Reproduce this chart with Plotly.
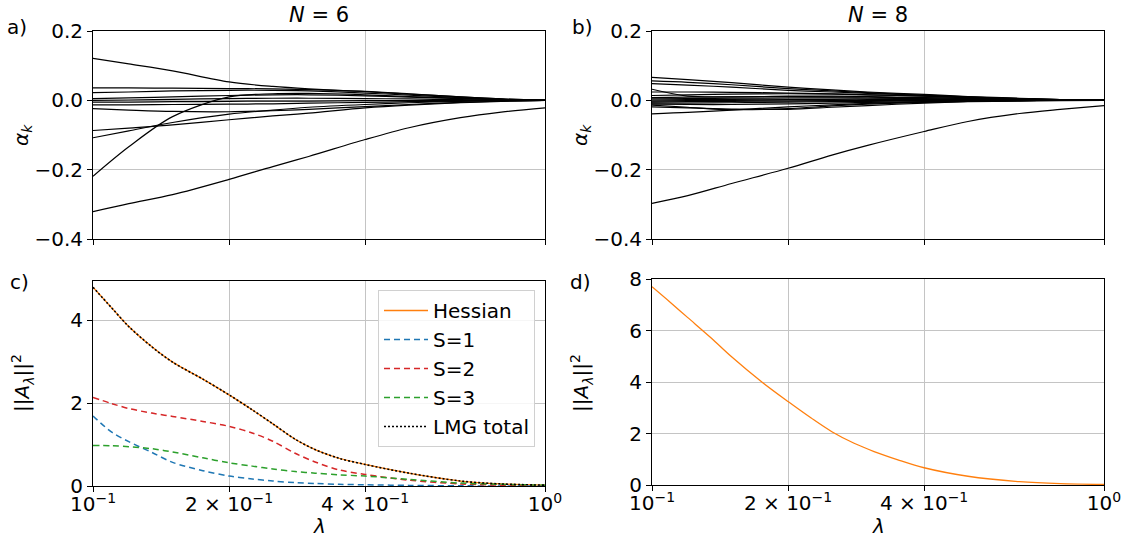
import plotly.graph_objects as go

W, H = 1129, 542

# ---------------- data ----------------
lam = [0.1, 0.12, 0.15, 0.2, 0.25, 0.3, 0.4, 0.5, 0.65, 0.8, 1.0]

# panel a) N=6 : alpha_k vs lambda
alpha_n6 = [
    [0.121, 0.105, 0.085, 0.053, 0.040, 0.033, 0.025, 0.018, 0.010, 0.004, 0.0],
    [0.036, 0.036, 0.035, 0.034, 0.033, 0.031, 0.026, 0.019, 0.010, 0.004, 0.0],
    [0.022, 0.024, 0.027, 0.029, 0.029, 0.027, 0.021, 0.015, 0.008, 0.003, 0.0],
    [0.005, 0.007, 0.010, 0.014, 0.016, 0.016, 0.013, 0.009, 0.005, 0.002, 0.0],
    [0.000, 0.001, 0.003, 0.005, 0.006, 0.006, 0.005, 0.004, 0.002, 0.001, 0.0],
    [-0.005, -0.005, -0.004, -0.003, -0.002, -0.002, -0.001, -0.001, 0.0, 0.0, 0.0],
    [-0.013, -0.013, -0.012, -0.011, -0.010, -0.008, -0.006, -0.004, -0.002, -0.001, 0.0],
    [-0.024, -0.028, -0.032, -0.033, -0.030, -0.026, -0.018, -0.012, -0.006, -0.002, 0.0],
    [-0.087, -0.080, -0.071, -0.056, -0.045, -0.037, -0.022, -0.014, -0.007, -0.003, 0.0],
    [-0.108, -0.088, -0.064, -0.040, -0.028, -0.020, -0.012, -0.007, -0.003, -0.001, 0.0],
    [-0.219, -0.134, -0.047, 0.010, 0.019, 0.020, 0.016, 0.011, 0.006, 0.002, 0.0],
    [-0.321, -0.298, -0.272, -0.228, -0.191, -0.162, -0.113, -0.079, -0.050, -0.034, -0.022],
]

# panel b) N=8 : alpha_k vs lambda
alpha_n8 = [
    [0.066, 0.060, 0.051, 0.038, 0.030, 0.024, 0.017, 0.011, 0.006, 0.002, 0.0],
    [0.056, 0.052, 0.045, 0.034, 0.027, 0.022, 0.015, 0.010, 0.005, 0.002, 0.0],
    [0.048, 0.044, 0.038, 0.029, 0.024, 0.020, 0.014, 0.009, 0.005, 0.002, 0.0],
    [0.032, 0.012, 0.010, 0.012, 0.012, 0.011, 0.008, 0.006, 0.003, 0.001, 0.0],
    [0.024, 0.024, 0.023, 0.021, 0.019, 0.016, 0.012, 0.008, 0.004, 0.002, 0.0],
    [0.014, 0.016, 0.018, 0.019, 0.018, 0.016, 0.012, 0.008, 0.004, 0.001, 0.0],
    [0.008, 0.009, 0.010, 0.011, 0.010, 0.009, 0.007, 0.005, 0.003, 0.001, 0.0],
    [0.004, 0.005, 0.006, 0.007, 0.007, 0.006, 0.005, 0.003, 0.002, 0.001, 0.0],
    [0.001, 0.002, 0.003, 0.003, 0.003, 0.003, 0.002, 0.002, 0.001, 0.0, 0.0],
    [-0.002, -0.001, 0.0, 0.001, 0.001, 0.001, 0.001, 0.0, 0.0, 0.0, 0.0],
    [-0.005, -0.004, -0.003, -0.002, -0.001, -0.001, 0.0, 0.0, 0.0, 0.0, 0.0],
    [-0.008, -0.008, -0.007, -0.005, -0.004, -0.003, -0.002, -0.001, 0.0, 0.0, 0.0],
    [-0.011, -0.012, -0.012, -0.010, -0.008, -0.006, -0.004, -0.002, -0.001, 0.0, 0.0],
    [-0.014, -0.020, -0.027, -0.024, -0.016, -0.011, -0.006, -0.003, -0.001, 0.0, 0.0],
    [-0.019, -0.022, -0.025, -0.026, -0.020, -0.015, -0.008, -0.004, -0.002, -0.001, 0.0],
    [-0.039, -0.035, -0.028, -0.019, -0.013, -0.009, -0.005, -0.003, -0.001, 0.0, 0.0],
    [-0.297, -0.275, -0.240, -0.196, -0.158, -0.130, -0.090, -0.061, -0.038, -0.026, -0.015],
]

# bottom panels use a denser lambda grid
lam_b = [0.1, 0.11, 0.12, 0.135, 0.15, 0.175, 0.2, 0.225, 0.25, 0.28, 0.31, 0.35, 0.4, 0.5, 0.65, 0.8, 1.0]

# panel c) N=6 : ||A||^2
hessian_n6 = [4.80, 4.30, 3.85, 3.36, 2.99, 2.58, 2.20, 1.84, 1.50, 1.13, 0.88, 0.67, 0.52, 0.31, 0.12, 0.05, 0.02]
s1_n6 = [1.69, 1.30, 1.07, 0.81, 0.57, 0.37, 0.24, 0.17, 0.12, 0.08, 0.06, 0.04, 0.03, 0.015, 0.005, 0.0, 0.0]
s2_n6 = [2.14, 1.99, 1.87, 1.76, 1.68, 1.56, 1.44, 1.28, 1.08, 0.79, 0.58, 0.39, 0.28, 0.14, 0.05, 0.02, 0.0]
s3_n6 = [0.98, 0.97, 0.95, 0.90, 0.82, 0.68, 0.56, 0.48, 0.41, 0.35, 0.31, 0.27, 0.24, 0.16, 0.07, 0.04, 0.02]
lmg_total_n6 = [4.80, 4.30, 3.85, 3.36, 2.99, 2.58, 2.20, 1.84, 1.50, 1.13, 0.88, 0.67, 0.52, 0.31, 0.12, 0.05, 0.02]

# panel d) N=8 : ||A||^2
hessian_n8 = [7.70, 7.08, 6.50, 5.72, 4.98, 4.00, 3.24, 2.60, 2.07, 1.62, 1.30, 0.98, 0.67, 0.34, 0.13, 0.05, 0.02]

x_tickvals = [0.1, 0.2, 0.4, 1.0]
x_ticktext = ["10<sup>−1</sup>", "2 × 10<sup>−1</sup>", "4 × 10<sup>−1</sup>", "10<sup>0</sup>"]

# ---------------- style ----------------
FONT = "DejaVu Sans, Liberation Sans, sans-serif"
FS = 20
ORANGE, BLUE, RED, GREEN = "#ff7f0e", "#1f77b4", "#d62728", "#2ca02c"
GRID = "#c4c4c4"
SPL = dict(shape="spline", smoothing=0.9)

def px_x(p):
    return p / W

def px_y(p):
    return 1 - p / H

fig = go.Figure()

# panel a
for ys in alpha_n6:
    fig.add_trace(go.Scatter(x=lam, y=ys, mode="lines", xaxis="x", yaxis="y",
                             line=dict(color="black", width=1.2, **SPL),
                             showlegend=False, hoverinfo="skip"))
# panel b
for ys in alpha_n8:
    fig.add_trace(go.Scatter(x=lam, y=ys, mode="lines", xaxis="x2", yaxis="y2",
                             line=dict(color="black", width=1.2, **SPL),
                             showlegend=False, hoverinfo="skip"))
# panel c
series_c = [
    ("Hessian", hessian_n6, dict(color=ORANGE, width=1.3)),
    ("S=1", s1_n6, dict(color=BLUE, width=1.5, dash="6px,4px")),
    ("S=2", s2_n6, dict(color=RED, width=1.5, dash="6px,4px")),
    ("S=3", s3_n6, dict(color=GREEN, width=1.5, dash="6px,4px")),
    ("LMG total", lmg_total_n6, dict(color="black", width=1.6, dash="2px,2px")),
]
for name, ys, ln in series_c:
    fig.add_trace(go.Scatter(x=lam_b, y=ys, mode="lines", name=name, legendgroup=name,
                             xaxis="x3", yaxis="y3", line=dict(**ln, **SPL)))
# panel d
fig.add_trace(go.Scatter(x=lam_b, y=hessian_n8, mode="lines", xaxis="x4", yaxis="y4",
                         line=dict(color=ORANGE, width=1.3, **SPL),
                         showlegend=False))

xl_left = [px_x(93), px_x(545)]
xl_right = [px_x(652), px_x(1104)]
y_top = [px_y(239), px_y(31)]
y_bot = [px_y(486), px_y(281)]
y_bot_d = [px_y(485), px_y(279)]

def xaxis(domain, anchor, labels):
    return dict(domain=domain, anchor=anchor, type="log", range=[-1, 0], automargin=False,
                tickmode="array", tickvals=x_tickvals, ticktext=x_ticktext,
                showticklabels=labels, ticks="outside", ticklen=5, tickcolor="black",
                ticklabelstandoff=-5,
                showline=True, linecolor="black", linewidth=1, mirror=True,
                showgrid=True, gridcolor=GRID, gridwidth=1, zeroline=False,
                tickfont=dict(size=FS, color="black"))

def yaxis(domain, anchor, rng, vals, texts):
    return dict(domain=domain, anchor=anchor, range=rng, automargin=False,
                tickmode="array", tickvals=vals, ticktext=texts,
                ticks="outside", ticklen=5, tickcolor="black",
                showline=True, linecolor="black", linewidth=1, mirror=True,
                showgrid=True, gridcolor=GRID, gridwidth=1, zeroline=False,
                tickfont=dict(size=FS, color="black"))

top_vals = [0.2, 0.0, -0.2, -0.4]
top_text = ["0.2", "0.0", "−0.2", "−0.4"]

fig.update_layout(
    template="none",
    width=W, height=H,
    margin=dict(l=0, r=0, t=0, b=0, autoexpand=False),
    paper_bgcolor="white", plot_bgcolor="white",
    font=dict(family=FONT, size=FS, color="black"),
    xaxis=xaxis(xl_left, "y", False),
    yaxis=yaxis(y_top, "x", [-0.4, 0.2], top_vals, top_text),
    xaxis2=xaxis(xl_right, "y2", False),
    yaxis2=yaxis(y_top, "x2", [-0.4, 0.2], top_vals, top_text),
    xaxis3=xaxis(xl_left, "y3", True),
    yaxis3=yaxis(y_bot, "x3", [0, 4.95], [0, 2, 4], ["0", "2", "4"]),
    xaxis4=xaxis(xl_right, "y4", True),
    yaxis4=yaxis(y_bot_d, "x4", [0, 8], [0, 2, 4, 6, 8], ["0", "2", "4", "6", "8"]),
    legend=dict(x=px_x(535), xanchor="right", y=px_y(290), yanchor="top",
                bgcolor="rgba(255,255,255,0.85)", bordercolor="#d0d0d0", borderwidth=1,
                font=dict(size=FS, color="black"), itemwidth=44, tracegroupgap=8,
                traceorder="normal"),
    showlegend=True,
)

ann = []
def add_text(x, y, text, size=FS, angle=0):
    ann.append(dict(x=px_x(x), y=px_y(y), xref="paper", yref="paper", text=text,
                    showarrow=False, textangle=angle, font=dict(size=size, color="black"),
                    xanchor="center", yanchor="middle"))

add_text(319, 15, "<i>N</i> = 6", size=21)
add_text(878, 15, "<i>N</i> = 8", size=21)
add_text(17, 27, "a)")
add_text(582, 27, "b)")
add_text(19, 282, "c)")
add_text(580, 282, "d)")
add_text(22, 135, "<i>α<sub>k</sub></i>", angle=-90)
add_text(581, 135, "<i>α<sub>k</sub></i>", angle=-90)
add_text(22, 383, "||<i>A<sub>λ</sub></i>||<sup>2</sup>", angle=-90)
add_text(581, 383, "||<i>A<sub>λ</sub></i>||<sup>2</sup>", angle=-90)
add_text(319, 526, "<i>λ</i>")
add_text(878, 526, "<i>λ</i>")
fig.update_layout(annotations=ann)

fig.write_html("out.html", config={"displayModeBar": False},
               post_script="document.body.style.margin='0';document.body.style.overflow='hidden';")
